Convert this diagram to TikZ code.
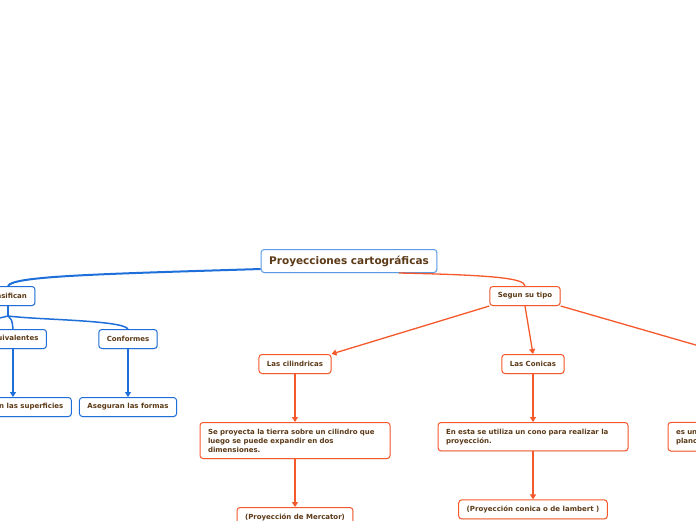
\documentclass[tikz,border=0pt]{standalone}
\usepackage{fontspec}
\setmainfont{DejaVu Sans}
\usetikzlibrary{arrows.meta, positioning, shadows}
\definecolor{mapBrown}{HTML}{5C3A17}
\definecolor{mapBlue}{HTML}{1E6FD9}
\definecolor{mapLightBlue}{HTML}{5B9BE6}
\definecolor{mapOrange}{HTML}{F5582A}
\tikzset{
    font=\bfseries\fontsize{7}{9}\selectfont,
    >={Triangle[width=6pt,length=5pt]},
    % Boxes
    box/.style={rectangle, rounded corners=3pt, fill=white, line width=1pt,
                text=mapBrown, minimum height=19pt, inner xsep=8pt, inner ysep=4pt,
                drop shadow={shadow xshift=0.6pt, shadow yshift=-0.8pt, opacity=0.2}},
    boxBlue/.style={box, draw=mapBlue},
    boxOrange/.style={box, draw=mapOrange},
    wideBox/.style={boxOrange, text width=174pt, align=left, inner ysep=6.3pt},
    titleBox/.style={box, draw=mapLightBlue, minimum height=23pt,
                     font=\bfseries\fontsize{10.5}{12}\selectfont},
    % Links
    linkBlue/.style={mapBlue, line width=1.5pt},
    linkOrange/.style={mapOrange, line width=1.3pt}
}

\begin{document}
\begin{tikzpicture}[x=1pt, y=-1pt, node distance=48pt]

\useasboundingbox (0,0) rectangle (696,520);
\clip (0,0) rectangle (696,520);

\node[titleBox] (title) at (349,261) {Proyecciones cartográficas};

% rama azul
\node[boxBlue] (clasif) at (8,296) {Clasifican};
\node[boxBlue] (equiv) at (13,339) {Equivalentes};
\node[boxBlue] (conformes) at (128,339) {Conformes};
\node[boxBlue, below=of equiv] (conserv) {Conservan las superficies};
\node[boxBlue, below=of conformes] (aseguran) {Aseguran las formas};
\coordinate (clasOtra) at (-60,330);

% rama naranja
\node[boxOrange] (segun) at (525,296) {Segun su tipo};
\node[boxOrange] (cilind) at (295,364) {Las cilindricas};
\node[boxOrange] (conicas) at (533,364) {Las Conicas};
\coordinate (planas) at (720,352);
\node[wideBox, below=of cilind] (seProy) {Se proyecta la tierra sobre un cilindro que\\luego se puede expandir en dos\\dimensiones.};
\node[boxOrange, below=of seProy] (mercator) {(Proyección de Mercator)};
\node[wideBox, below=of conicas] (enEsta) {En esta se utiliza un cono para realizar la\\proyección.};
\node[boxOrange, below=of enEsta] (lambert) {(Proyección conica o de lambert )};
\node[wideBox, right=39pt of enEsta] (esUn) {es un tipo de proyección sobre un\\plano tangente a la tierra.};

\draw[linkBlue, line width=2pt] ([yshift=4pt]title.south west) .. controls (100,274) and (12,276) .. (clasif.north);
\draw[linkOrange] ([xshift=50pt]title.south) .. controls (490,275) and (525,278) .. (segun.north);

\draw[linkBlue] (clasif.south) -- ++(0,10) coordinate (clasHub);
\draw[linkBlue] (clasHub) .. controls (12,320) .. (equiv.north);
\draw[linkBlue] (clasHub) .. controls (40,320) and (122,320) .. (conformes.north);
\draw[linkBlue] (clasHub) .. controls (0,318) .. (clasOtra);
\draw[linkBlue, ->] (equiv) -- (conserv);
\draw[linkBlue, ->] (conformes) -- (aseguran);

\draw[linkOrange, ->] (segun.south west) -- (cilind.north east);
\draw[linkOrange, ->] (segun.south) -- (conicas.north);
\draw[linkOrange] (segun.south east) -- (planas);
\draw[linkOrange, ->] (cilind) -- (seProy);
\draw[linkOrange, ->] (seProy) -- (mercator);
\draw[linkOrange, ->] (conicas) -- (enEsta);
\draw[linkOrange, ->] (enEsta) -- (lambert);

\end{tikzpicture}
\end{document}
